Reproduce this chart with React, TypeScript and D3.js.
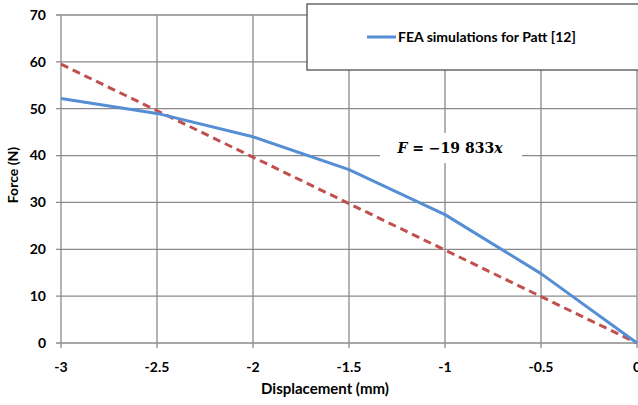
import React, { useEffect, useRef } from 'react';
import * as d3 from 'd3';

// FEA results (displacement mm, force N)
const feaDisp = [-3, -2.5, -2, -1.5, -1, -0.5, 0];
const feaForce = [52.2, 49.0, 44.0, 37.0, 27.4, 14.8, 0];
// linear fit F = -19.833 x (N/mm)
const fitDisp = [-3, 0];
const fitSlope = -19.833;
const xTicks = [-3, -2.5, -2, -1.5, -1, -0.5, 0];
const yTicks = [0, 10, 20, 30, 40, 50, 60, 70];
const legendLabel = 'FEA simulations for Patt [12]';

export default function App() {
  const ref = useRef<SVGSVGElement>(null);
  const width = 638;
  const height = 405;
  const m = { top: 15, right: 1, bottom: 62, left: 61 };

  useEffect(() => {
    const svg = d3.select(ref.current);
    svg.selectAll('*').remove();

    const x = d3.scaleLinear().domain([-3, 0]).range([m.left, width - m.right]);
    const y = d3.scaleLinear().domain([0, 70]).range([height - m.bottom, m.top]);
    const grid = '#8a8a8a';
    const font = 'Lato, "Open Sans", sans-serif';

    // gridlines
    svg.append('g')
      .selectAll('line')
      .data(yTicks)
      .join('line')
      .attr('x1', m.left - 5).attr('x2', width - m.right)
      .attr('y1', d => y(d)).attr('y2', d => y(d))
      .attr('stroke', grid).attr('stroke-width', 1.3);
    svg.append('g')
      .selectAll('line')
      .data(xTicks)
      .join('line')
      .attr('x1', d => x(d)).attr('x2', d => x(d))
      .attr('y1', m.top).attr('y2', height - m.bottom + 5)
      .attr('stroke', grid).attr('stroke-width', 1.3);

    // tick labels
    svg.append('g')
      .selectAll('text')
      .data(yTicks)
      .join('text')
      .attr('x', m.left - 15).attr('y', d => y(d))
      .attr('dy', '0.35em')
      .attr('text-anchor', 'end')
      .attr('font-family', font).attr('font-weight', 'bold').attr('font-size', 14)
      .text(d => d);
    svg.append('g')
      .selectAll('text')
      .data(xTicks)
      .join('text')
      .attr('x', d => x(d)).attr('y', height - m.bottom + 29)
      .attr('text-anchor', 'middle')
      .attr('font-family', font).attr('font-weight', 'bold').attr('font-size', 14)
      .text(d => d);

    // axis titles
    svg.append('text')
      .attr('x', 325).attr('y', 394)
      .attr('text-anchor', 'middle')
      .attr('font-family', font).attr('font-weight', 'bold').attr('font-size', 15)
      .text('Displacement (mm)');
    svg.append('text')
      .attr('transform', 'translate(18,175) rotate(-90)')
      .attr('text-anchor', 'middle')
      .attr('font-family', font).attr('font-weight', 'bold').attr('font-size', 14)
      .text('Force (N)');

    // equation box
    svg.append('rect')
      .attr('x', 380).attr('y', 133).attr('width', 142).attr('height', 30)
      .attr('fill', '#fff');
    const eq = svg.append('text')
      .attr('x', 450).attr('y', 153)
      .attr('text-anchor', 'middle')
      .attr('font-family', '"DejaVu Serif", serif').attr('font-weight', 'bold')
      .attr('font-size', 14);
    eq.append('tspan').attr('font-style', 'italic').text('F');
    eq.append('tspan').text(' = \u221219 833');
    eq.append('tspan').attr('font-style', 'italic').text('x');

    // fit line
    const line = d3.line<[number, number]>().x(d => x(d[0])).y(d => y(d[1]));
    svg.append('path')
      .datum(fitDisp.map(d => [d, fitSlope * d] as [number, number]))
      .attr('d', line)
      .attr('fill', 'none').attr('stroke', '#c0504d').attr('stroke-width', 3)
      .attr('stroke-dasharray', '8,5');

    // FEA line
    svg.append('path')
      .datum(feaDisp.map((d, i) => [d, feaForce[i]] as [number, number]))
      .attr('d', line)
      .attr('fill', 'none').attr('stroke', '#558ed5').attr('stroke-width', 3)
      .attr('stroke-linejoin', 'round');

    // legend
    const lg = svg.append('g');
    lg.append('rect')
      .attr('x', 307).attr('y', 4).attr('width', 340).attr('height', 66)
      .attr('fill', '#fff').attr('stroke', '#505050').attr('stroke-width', 1.3);
    lg.append('line')
      .attr('x1', 367).attr('x2', 396).attr('y1', 37).attr('y2', 37)
      .attr('stroke', '#558ed5').attr('stroke-width', 3);
    lg.append('text')
      .attr('x', 398).attr('y', 42)
      .attr('font-family', font).attr('font-weight', 'bold').attr('font-size', 14)
      .text(legendLabel);
  }, []);

  return (
    <svg
      ref={ref}
      width={width}
      height={height}
      style={{ position: 'absolute', left: 0, top: 0, background: '#fff' }}
    />
  );
}
